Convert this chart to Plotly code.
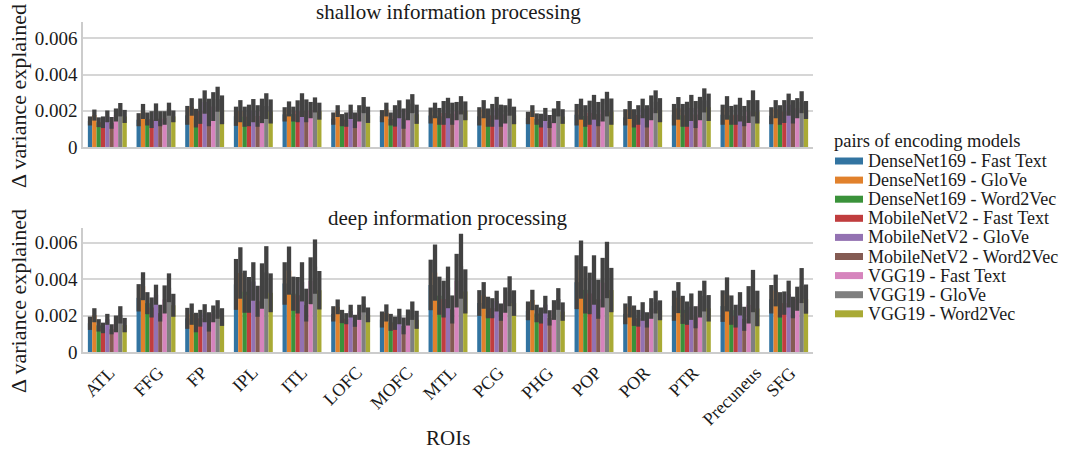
import plotly.graph_objects as go
from plotly.subplots import make_subplots

ROIS = ["ATL", "FFG", "FP", "IPL", "ITL", "LOFC", "MOFC", "MTL", "PCG", "PHG",
        "POP", "POR", "PTR", "Precuneus", "SFG"]

MODELS = ["DenseNet169 - Fast Text", "DenseNet169 - GloVe", "DenseNet169 - Word2Vec",
          "MobileNetV2 - Fast Text", "MobileNetV2 - GloVe", "MobileNetV2 - Word2Vec",
          "VGG19 - Fast Text", "VGG19 - GloVe", "VGG19 - Word2Vec"]

COLORS = ["#3274a1", "#e1812c", "#3a923a", "#c03d3e", "#9372b2",
          "#845b53", "#d684bd", "#7f7f7f", "#a9aa35"]

# Confidence-interval bounds (in units of 1e-3), one row per ROI, one column per model
SHALLOW_LOW = [
    [1.19, 1.46, 1.10, 1.05, 1.37, 1.01, 1.41, 1.69, 1.33],
    [1.15, 1.55, 1.19, 1.05, 1.44, 1.15, 1.23, 1.73, 1.37],
    [1.23, 1.73, 1.08, 1.28, 1.84, 1.15, 1.44, 1.95, 1.26],
    [1.17, 1.37, 1.12, 1.15, 1.37, 1.12, 1.32, 1.55, 1.30],
    [1.41, 1.69, 1.41, 1.37, 1.66, 1.37, 1.59, 1.91, 1.51],
    [1.23, 1.66, 1.15, 1.12, 1.55, 1.05, 1.41, 1.87, 1.33],
    [1.37, 1.69, 1.19, 1.13, 1.59, 1.01, 1.48, 1.87, 1.28],
    [1.30, 1.59, 1.23, 1.23, 1.59, 1.23, 1.48, 1.80, 1.48],
    [1.19, 1.59, 1.12, 1.12, 1.51, 1.12, 1.30, 1.73, 1.26],
    [1.26, 1.66, 1.23, 1.08, 1.44, 1.05, 1.32, 1.69, 1.28],
    [1.19, 1.51, 1.12, 1.23, 1.51, 1.15, 1.41, 1.69, 1.23],
    [1.19, 1.55, 1.08, 1.23, 1.59, 1.08, 1.48, 1.87, 1.37],
    [1.19, 1.51, 1.12, 1.12, 1.44, 1.05, 1.48, 1.91, 1.44],
    [1.23, 1.51, 1.23, 1.23, 1.41, 1.15, 1.33, 1.69, 1.30],
    [1.26, 1.59, 1.23, 1.33, 1.73, 1.30, 1.59, 1.87, 1.55],
]
SHALLOW_HIGH = [
    [1.69, 2.07, 1.64, 1.69, 2.02, 1.66, 2.13, 2.43, 2.05],
    [1.87, 2.38, 1.91, 1.98, 2.41, 1.98, 1.98, 2.45, 2.02],
    [2.27, 2.70, 2.11, 2.68, 3.13, 2.67, 3.03, 3.33, 2.85],
    [2.23, 2.59, 2.23, 2.34, 2.65, 2.31, 2.67, 2.97, 2.63],
    [2.20, 2.52, 2.23, 2.58, 2.97, 2.63, 2.49, 2.74, 2.45],
    [1.91, 2.31, 1.82, 1.91, 2.34, 1.91, 2.31, 2.76, 2.23],
    [2.04, 2.45, 1.91, 2.31, 2.58, 2.13, 2.63, 2.92, 2.34],
    [2.18, 2.45, 2.16, 2.54, 2.72, 2.45, 2.49, 2.81, 2.52],
    [2.20, 2.59, 2.13, 2.38, 2.77, 2.34, 2.31, 2.67, 2.23],
    [1.95, 2.31, 1.86, 1.84, 2.16, 1.77, 2.13, 2.54, 2.09],
    [2.38, 2.67, 2.31, 2.56, 2.88, 2.49, 2.67, 3.05, 2.68],
    [2.09, 2.54, 2.09, 2.31, 2.67, 2.31, 2.85, 3.13, 2.70],
    [2.38, 2.76, 2.38, 2.50, 2.88, 2.54, 2.77, 3.24, 2.95],
    [2.34, 2.81, 2.27, 2.34, 2.72, 2.27, 2.59, 3.13, 2.59],
    [2.20, 2.59, 2.31, 2.59, 2.95, 2.59, 2.70, 3.08, 2.54],
]
DEEP_LOW = [
    [1.21, 1.63, 1.12, 1.03, 1.49, 0.97, 1.08, 1.56, 1.08],
    [2.22, 2.84, 2.07, 1.89, 2.59, 1.67, 2.11, 2.73, 1.93],
    [1.27, 1.49, 1.08, 1.39, 1.63, 1.12, 1.63, 1.82, 1.43],
    [2.31, 2.92, 2.15, 2.15, 2.81, 1.93, 2.37, 2.92, 2.18],
    [2.59, 3.14, 2.26, 2.11, 2.77, 1.67, 2.62, 3.19, 2.33],
    [1.67, 2.07, 1.58, 1.52, 1.89, 1.38, 1.76, 2.17, 1.63],
    [1.34, 1.67, 1.16, 1.21, 1.52, 0.97, 1.45, 1.76, 1.27],
    [2.29, 2.81, 2.04, 1.89, 2.40, 1.56, 2.44, 2.92, 2.11],
    [1.98, 2.37, 1.85, 1.85, 2.22, 1.71, 2.15, 2.51, 1.98],
    [1.74, 2.29, 1.63, 1.56, 2.11, 1.45, 1.76, 2.31, 1.71],
    [2.35, 2.92, 2.11, 2.07, 2.59, 1.82, 2.44, 2.95, 2.18],
    [1.52, 1.89, 1.43, 1.39, 1.71, 1.34, 1.82, 2.11, 1.74],
    [1.71, 2.13, 1.54, 1.49, 1.76, 1.30, 1.89, 2.22, 1.67],
    [1.65, 2.22, 1.49, 1.34, 2.00, 1.16, 1.56, 2.18, 1.41],
    [2.11, 2.50, 1.89, 2.04, 2.44, 1.85, 2.26, 2.68, 2.10],
]
DEEP_HIGH = [
    [1.94, 2.40, 1.80, 1.61, 2.09, 1.52, 2.00, 2.51, 1.87],
    [3.72, 4.37, 3.28, 2.99, 3.69, 2.59, 3.65, 4.31, 3.19],
    [2.42, 2.66, 2.15, 2.31, 2.62, 2.18, 2.55, 2.84, 2.40],
    [5.10, 5.74, 4.46, 4.11, 4.92, 3.63, 4.86, 5.80, 4.31],
    [4.92, 5.78, 4.13, 4.11, 4.92, 3.47, 5.19, 6.17, 4.44],
    [2.51, 2.88, 2.31, 2.13, 2.59, 2.04, 2.59, 3.05, 2.44],
    [2.22, 2.61, 2.09, 1.94, 2.37, 1.89, 2.33, 2.77, 2.26],
    [5.06, 5.89, 4.13, 3.91, 4.68, 3.10, 5.38, 6.48, 4.53],
    [3.39, 3.83, 3.03, 2.95, 3.36, 2.66, 3.54, 4.15, 3.38],
    [2.77, 3.41, 2.59, 2.44, 3.08, 2.29, 2.84, 3.50, 2.72],
    [5.30, 6.11, 4.70, 4.35, 5.30, 3.96, 5.16, 6.04, 4.61],
    [2.66, 3.06, 2.55, 2.31, 2.73, 2.18, 2.95, 3.36, 2.83],
    [3.36, 3.83, 3.08, 2.77, 3.21, 2.51, 3.36, 3.91, 3.12],
    [3.38, 4.09, 3.10, 2.59, 3.28, 2.48, 3.61, 4.50, 3.36],
    [3.67, 4.24, 3.28, 3.32, 3.91, 3.03, 3.58, 4.60, 3.70],
]

SCALE = 1e-3
FONT = "Liberation Serif, Times New Roman, serif"
TEXT = "#1a1a1a"
ERR_COLOR = "#424242"
GRID = "#d6d6d6"

W, H = 1069, 452
ML, MR, MT, MB = 83, 256, 22, 100
PW, PH = W - ML - MR, H - MT - MB


def px_x(x):
    return (x - ML) / PW


def px_y(y):
    return (H - MB - y) / PH


fig = make_subplots(rows=2, cols=1)

panels = [(SHALLOW_LOW, SHALLOW_HIGH), (DEEP_LOW, DEEP_HIGH)]
for p, (low, high) in enumerate(panels):
    for m, name in enumerate(MODELS):
        lo = [row[m] * SCALE for row in low]
        hi = [row[m] * SCALE for row in high]
        mean = [(a + b) / 2 for a, b in zip(lo, hi)]
        err = [(b - a) / 2 for a, b in zip(lo, hi)]
        fig.add_trace(
            go.Bar(
                x=ROIS, y=mean, name=name,
                marker=dict(color=COLORS[m], line=dict(width=0)),
                error_y=dict(type="data", array=err, symmetric=True,
                             thickness=4.3, width=0, color=ERR_COLOR),
                showlegend=False,
                hoverinfo="skip",
            ),
            row=p + 1, col=1,
        )

fig.update_layout(
    width=W, height=H,
    margin=dict(l=ML, r=MR, t=MT, b=MB),
    plot_bgcolor="white", paper_bgcolor="white",
    barmode="group", bargap=0.2, bargroupgap=0,
    font=dict(family=FONT, size=18, color=TEXT),
    showlegend=False,
)

common_x = dict(range=[-0.5, 14.5], showline=True, linecolor="#cccccc", linewidth=1.5,
                showgrid=False, ticks="", zeroline=False, showticklabels=False)
fig.update_xaxes(**common_x)

common_y = dict(tickvals=[0, 0.002, 0.004, 0.006], ticktext=["0", "0.002", "0.004", "0.006"],
                showline=True, linecolor="#cccccc", linewidth=1.5, showgrid=True,
                gridcolor=GRID, gridwidth=1.5, zeroline=False, ticks="",
                tickfont=dict(size=19))
fig.update_yaxes(**common_y)
fig.update_layout(
    xaxis=dict(domain=[0, 1]), xaxis2=dict(domain=[0, 1]),
    yaxis=dict(domain=[0.621, 1.0], range=[0, 0.0069]),
    yaxis2=dict(domain=[0.0, 0.376], range=[0, 0.0068]),
)

annotations = [
    dict(text="shallow information processing", x=0.5, y=1.0, xref="paper", yref="paper",
         xanchor="center", yanchor="bottom", yshift=-4, showarrow=False, font=dict(size=21)),
    dict(text="deep information processing", x=0.5, y=0.376, xref="paper", yref="paper",
         xanchor="center", yanchor="bottom", yshift=-4, showarrow=False, font=dict(size=21)),
    dict(text="ROIs", x=0.5, y=px_y(438), xref="paper", yref="paper",
         xanchor="center", yanchor="middle", showarrow=False, font=dict(size=21)),
    dict(text="Δ variance explained", x=px_x(18), y=px_y(96), xref="paper", yref="paper",
         xanchor="center", yanchor="middle", textangle=-90, showarrow=False, font=dict(size=22)),
    dict(text="Δ variance explained", x=px_x(18), y=px_y(301), xref="paper", yref="paper",
         xanchor="center", yanchor="middle", textangle=-90, showarrow=False, font=dict(size=22)),
    dict(text="pairs of encoding models", x=px_x(832), y=px_y(141), xref="paper", yref="paper",
         xanchor="left", yanchor="middle", showarrow=False, font=dict(size=18.5)),
]

# rotated category labels, centred under each ROI (matplotlib style)
for roi in ROIS:
    annotations.append(dict(text=roi, x=roi, xref="x2", y=px_y(360), yref="paper",
                            xanchor="center", yanchor="top", xshift=-8, textangle=-45,
                            showarrow=False, font=dict(size=18)))

shapes = []
for m, name in enumerate(MODELS):
    yc = 161 + 19.1 * m
    shapes.append(dict(type="rect", xref="paper", yref="paper",
                       x0=px_x(835), x1=px_x(863), y0=px_y(yc + 3.5), y1=px_y(yc - 3.5),
                       fillcolor=COLORS[m], line=dict(width=0)))
    annotations.append(dict(text=name, x=px_x(866), y=px_y(yc), xref="paper", yref="paper",
                            xanchor="left", yanchor="middle", showarrow=False,
                            font=dict(size=18)))

fig.update_layout(annotations=annotations, shapes=shapes)

fig.write_html("out.html", config={"displayModeBar": False},
               post_script="document.body.style.margin='0';document.body.style.overflow='hidden';")
